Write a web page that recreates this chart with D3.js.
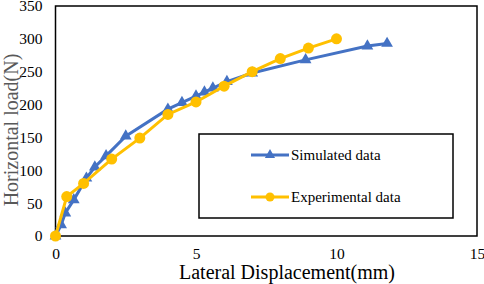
<!DOCTYPE html>
<html>
<head>
<meta charset="utf-8">
<script src="https://cdn.jsdelivr.net/npm/d3@7"></script>
<style>
  body { margin: 0; background: #fff; }
  text { font-family: "Liberation Serif", "Times New Roman", serif; }
</style>
</head>
<body>
<div id="container"></div>
<script>
let w = 484;
let h = 284;

// simulated (blue triangles)
let simX = [0, 0.2, 0.35, 0.65, 1.1, 1.4, 1.8, 2.5, 4.0, 4.5, 5.0, 5.3, 5.6, 6.1, 7.0, 8.9, 11.1, 11.8];
let simY = [0, 17, 35, 55, 88, 105, 122, 152, 193, 203, 213, 219, 225, 235, 248, 268, 289, 293];

// experimental (yellow circles)
let expX = [0, 0.4, 1, 2, 3, 4, 5, 6, 7, 8, 9, 10];
let expY = [0, 60, 80, 117, 149, 185, 204, 228, 250, 270, 286, 300];

let xTicks = [0, 5, 10, 15];
let yTicks = [0, 50, 100, 150, 200, 250, 300, 350];

let seriesNames = ["Simulated data", "Experimental data"];
let seriesColors = ["#4472C4", "#FFC000"];

let viz = d3.select("#container")
  .append("svg")
    .attr("width", w)
    .attr("height", h)
    .style("background-color", "white")
;

let plotLeft = 55.5, plotRight = 477, plotTop = 6, plotBottom = 236;

let xScale = d3.scaleLinear().domain([0, 15]).range([plotLeft, plotRight]);
let yScale = d3.scaleLinear().domain([0, 350]).range([plotBottom, plotTop]);

// x axis labels
let xAxis = d3.axisBottom(xScale).tickValues(xTicks).tickSize(0).tickPadding(12);
let xAxisGroup = viz.append("g").attr("transform", "translate(0," + plotBottom + ")").call(xAxis);
xAxisGroup.select(".domain").remove();
xAxisGroup.selectAll("text")
  .style("font-family", "Liberation Serif")
  .style("font-size", "15.5px")
  .attr("fill", "#000");

// y axis labels
let yAxis = d3.axisLeft(yScale).tickValues(yTicks).tickSize(0).tickPadding(13);
let yAxisGroup = viz.append("g").attr("transform", "translate(" + plotLeft + ",0)").call(yAxis);
yAxisGroup.select(".domain").remove();
yAxisGroup.selectAll("text")
  .style("font-family", "Liberation Serif")
  .style("font-size", "15.5px")
  .attr("fill", "#000");

// plot frame
viz.append("rect")
  .attr("x", plotLeft)
  .attr("y", plotTop)
  .attr("width", plotRight - plotLeft)
  .attr("height", plotBottom - plotTop)
  .attr("fill", "none")
  .attr("stroke", "#000")
  .attr("stroke-width", 1.5);

let line = d3.line()
  .x(function(d){ return xScale(d[0]); })
  .y(function(d){ return yScale(d[1]); });

let simData = simX.map(function(x, i){ return [x, simY[i]]; });
let expData = expX.map(function(x, i){ return [x, expY[i]]; });

let triangle = d3.symbol().type(d3.symbolTriangle).size(60);

// simulated
viz.append("path")
  .datum(simData)
  .attr("d", line)
  .attr("fill", "none")
  .attr("stroke", seriesColors[0])
  .attr("stroke-width", 3);
viz.selectAll(".tri").data(simData).enter()
  .append("path")
    .attr("class", "tri")
    .attr("d", triangle)
    .attr("fill", seriesColors[0])
    .attr("transform", function(d){ return "translate(" + xScale(d[0]) + "," + yScale(d[1]) + ")"; });

// experimental
viz.append("path")
  .datum(expData)
  .attr("d", line)
  .attr("fill", "none")
  .attr("stroke", seriesColors[1])
  .attr("stroke-width", 3);
viz.selectAll(".dot").data(expData).enter()
  .append("circle")
    .attr("class", "dot")
    .attr("cx", function(d){ return xScale(d[0]); })
    .attr("cy", function(d){ return yScale(d[1]); })
    .attr("r", 5.5)
    .attr("fill", seriesColors[1]);

// legend
let legend = viz.append("g");
legend.append("rect")
  .attr("x", 199)
  .attr("y", 134)
  .attr("width", 254)
  .attr("height", 84)
  .attr("fill", "white")
  .attr("stroke", "#000")
  .attr("stroke-width", 1.5);

let legendY = [155, 197];
seriesNames.forEach(function(name, i){
  legend.append("line")
    .attr("x1", 251).attr("x2", 289)
    .attr("y1", legendY[i]).attr("y2", legendY[i])
    .attr("stroke", seriesColors[i])
    .attr("stroke-width", 3);
  if (i == 0) {
    legend.append("path")
      .attr("d", d3.symbol().type(d3.symbolTriangle).size(45))
      .attr("fill", seriesColors[i])
      .attr("transform", "translate(270," + legendY[i] + ")");
  } else {
    legend.append("circle")
      .attr("cx", 270).attr("cy", legendY[i]).attr("r", 4.5)
      .attr("fill", seriesColors[i]);
  }
  legend.append("text")
    .attr("x", 291)
    .attr("y", legendY[i] + 5)
    .style("font-size", "15px")
    .attr("fill", "#000")
    .text(name);
});

// axis titles
viz.append("text")
  .attr("x", 287)
  .attr("y", 279)
  .attr("text-anchor", "middle")
  .style("font-size", "20px")
  .attr("fill", "#000")
  .text("Lateral Displacement(mm)");

viz.append("text")
  .attr("transform", "translate(18,130) rotate(-90)")
  .attr("text-anchor", "middle")
  .style("font-size", "20px")
  .attr("fill", "#595959")
  .text("Horizontal load(N)");
</script>
</body>
</html>
